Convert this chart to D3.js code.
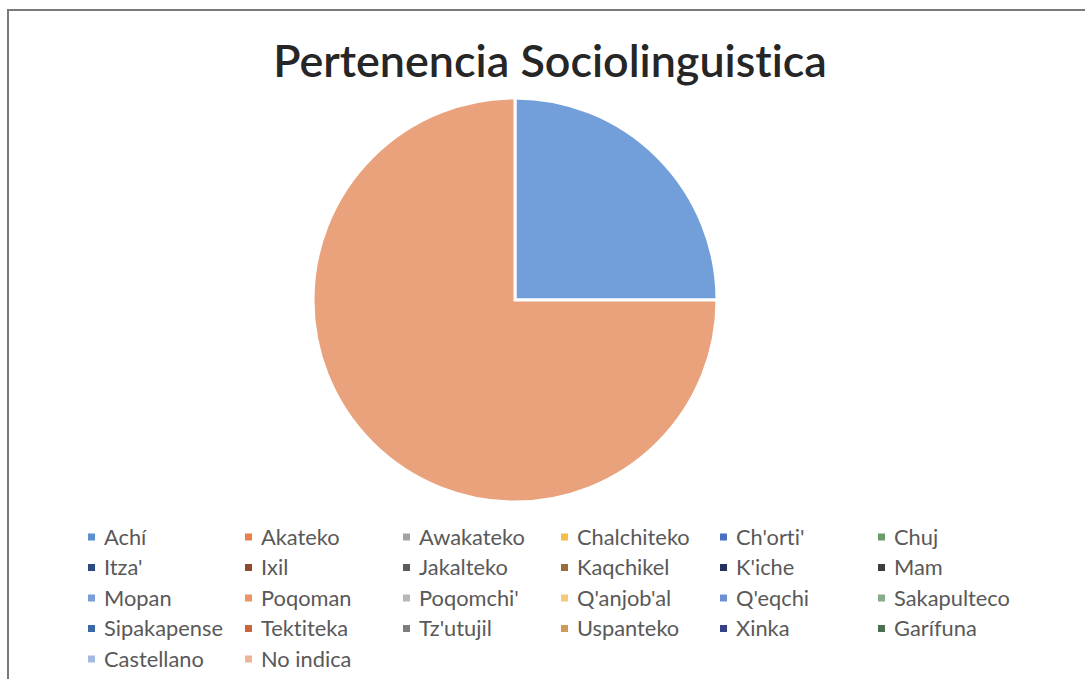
<!DOCTYPE html>
<html>
<head>
<meta charset="utf-8">
<script src="https://cdn.jsdelivr.net/npm/d3@7"></script>
<style>
  body { margin: 0; background: #fff; }
  svg { display: block; }
  text { font-variant-ligatures: none; }
</style>
</head>
<body>
<svg></svg>
<script>
// legend categories, in the order the chart lists them
var categories = [
  "Achí", "Akateko", "Awakateko", "Chalchiteko", "Ch'orti'", "Chuj",
  "Itza'", "Ixil", "Jakalteko", "Kaqchikel", "K'iche", "Mam",
  "Mopan", "Poqoman", "Poqomchi'", "Q'anjob'al", "Q'eqchi", "Sakapulteco",
  "Sipakapense", "Tektiteka", "Tz'utujil", "Uspanteko", "Xinka", "Garífuna",
  "Castellano", "No indica"
];
// share of the pie (percent) - only two slices are non empty
var values = [
  0, 0, 0, 0, 0, 0,
  0, 0, 0, 0, 0, 0,
  0, 0, 0, 0, 0, 0,
  0, 0, 0, 0, 0, 0,
  25, 75
];
var palette = [
  "#5b8fce", "#e9804a", "#a3a3a3", "#f6bd45", "#4a6fc0", "#6c9a6a",
  "#2b4a82", "#8c4a2e", "#5c5c5c", "#9a6d3a", "#23305e", "#3c4038",
  "#7a9fd6", "#ec9466", "#b8b8b8", "#f5c87c", "#6e8fd4", "#86ad88",
  "#3d68a8", "#c8643e", "#7e7e7e", "#cf9a55", "#36418a", "#4b7050",
  "#a3b9df", "#efb495"
];
var sliceColor = { "Castellano": "#729fd9", "No indica": "#e9a27c" };

var width = 1085;
var height = 679;

var svg = d3.select("svg")
  .attr("width", width)
  .attr("height", height);

// outer frame of the scanned chart
svg.append("rect")
  .attr("x", 8).attr("y", 10)
  .attr("width", width + 10).attr("height", height + 10)
  .attr("fill", "none")
  .attr("stroke", "#7a7a7a")
  .attr("stroke-width", 2);

// title, sized to the width it has in the picture
var title = svg.append("text")
  .attr("x", 550).attr("y", 77)
  .attr("text-anchor", "middle")
  .attr("font-family", "Lato, 'Open Sans', sans-serif")
  .attr("font-weight", 600)
  .attr("font-size", 40)
  .attr("fill", "#262626")
  .text("Pertenencia Sociolinguistica");
var tw = title.node().getComputedTextLength();
title.attr("font-size", 40 * 554 / tw);

// pie
var cx = 515, cy = 300, radius = 202;
var pie = d3.pie().sort(null).value(function(d) { return d.value; });
var arc = d3.arc().innerRadius(0).outerRadius(radius);

var rows = categories.map(function(c, i) {
  return { name: c, value: values[i], color: palette[i] };
});

svg.append("g")
  .attr("transform", "translate(" + cx + "," + cy + ")")
  .selectAll("path")
  .data(pie(rows).filter(function(d) { return d.value > 0; }))
  .enter().append("path")
  .attr("d", arc)
  .attr("fill", function(d) { return sliceColor[d.data.name] || d.data.color; })
  .attr("stroke", "#fff")
  .attr("stroke-width", 3)
  .attr("stroke-linejoin", "miter");

// legend, 6 columns
var colX = [88, 245, 403, 561, 720, 878];
var rowY = d3.scaleLinear().domain([0, 1]).range([537, 567.5]);

var legend = svg.append("g").attr("class", "legend");
var item = legend.selectAll("g")
  .data(rows)
  .enter().append("g")
  .attr("transform", function(d, i) {
    return "translate(" + colX[i % 6] + "," + rowY(Math.floor(i / 6)) + ")";
  });

item.append("rect")
  .attr("x", 0).attr("y", -3.5)
  .attr("width", 7).attr("height", 7)
  .attr("fill", function(d) { return d.color; });

var labels = item.append("text")
  .attr("x", 16)
  .attr("dy", "0.35em")
  .attr("font-family", "Lato, 'Open Sans', sans-serif")
  .attr("font-size", 18)
  .attr("fill", "#595959")
  .text(function(d) { return d.name; });

// fit legend font to the width "Sipakapense" has in the picture
var sw = labels.filter(function(d) { return d.name === "Sipakapense"; }).node().getComputedTextLength();
labels.attr("font-size", 18 * 119 / sw);
</script>
</body>
</html>
